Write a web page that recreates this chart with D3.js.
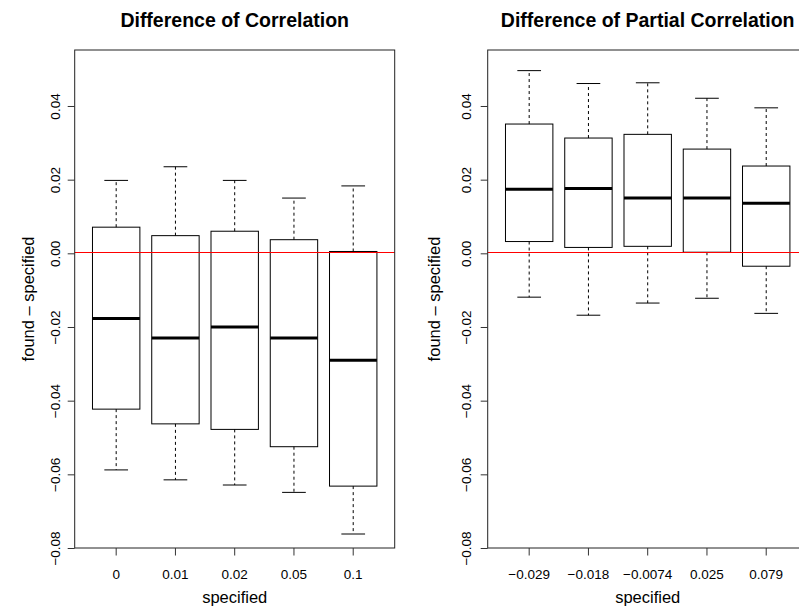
<!DOCTYPE html>
<html>
<head>
<meta charset="utf-8">
<script src="https://cdn.jsdelivr.net/npm/d3@7"></script>
<style>
  body { margin: 0; background: #fff; }
  svg { display: block; font-family: "Liberation Sans", Arial, Helvetica, sans-serif; }
</style>
</head>
<body>
<div id="chart"></div>
<script>
// Left panel data: correlation differences.
var corrCats = ["0", "0.01", "0.02", "0.05", "0.1"];
var corrLow  = [-0.0588, -0.0615, -0.0629, -0.0649, -0.0762];
var corrQ1   = [-0.0423, -0.0463, -0.0478, -0.0525, -0.0632];
var corrMed  = [-0.0177, -0.0230, -0.0200, -0.0230, -0.0290];
var corrQ3   = [0.0071, 0.0048, 0.0060, 0.0037, 0.0005];
var corrHigh = [0.0198, 0.0235, 0.0198, 0.0150, 0.0183];

// Right panel data: partial correlation differences.
var pcorCats = ["\u22120.029", "\u22120.018", "\u22120.0074", "0.025", "0.079"];
var pcorLow  = [-0.0119, -0.0168, -0.0135, -0.0122, -0.0163];
var pcorQ1   = [0.0032, 0.0016, 0.0019, 0.0003, -0.0035];
var pcorMed  = [0.0174, 0.0176, 0.0150, 0.0150, 0.0136];
var pcorQ3   = [0.0351, 0.0313, 0.0323, 0.0283, 0.0237];
var pcorHigh = [0.0496, 0.0461, 0.0463, 0.0421, 0.0395];

// Tick values and titles.
var yTicks = [-0.08, -0.06, -0.04, -0.02, 0, 0.02, 0.04];
var titles = ["Difference of Correlation", "Difference of Partial Correlation"];
var xTitle = "specified";
var yTitle = "found \u2013 specified";

// Dimensions.
var width = 799, height = 609;
var plotTop = 50, plotBottom = 548, plotWidth = 320;

var svg = d3.select("#chart")
    .append("svg")
    .attr("width", width)
    .attr("height", height);

// Shared y scale.
var yScale = d3.scaleLinear().domain([-0.08, 0.0552]).range([plotBottom, plotTop]);

function zip(cats, low, q1, med, q3, high) {
    return cats.map(function(c, i) {
        return {cat: c, low: low[i], q1: q1[i], med: med[i], q3: q3[i], high: high[i]};
    });
}

var panels = [
    {left: 74.7, data: zip(corrCats, corrLow, corrQ1, corrMed, corrQ3, corrHigh), title: titles[0], yLabX: 34, tickOff: 14.5},
    {left: 487.7, data: zip(pcorCats, pcorLow, pcorQ1, pcorMed, pcorQ3, pcorHigh), title: titles[1], yLabX: 440, tickOff: 16.5}
];

panels.forEach(function(p) {
    var g = svg.append("g");
    var xScale = d3.scaleBand()
        .domain(p.data.map(function(d) { return d.cat; }))
        .range([p.left, p.left + plotWidth])
        .paddingInner(0.2)
        .paddingOuter(0.3);
    var bw = xScale.bandwidth();
    var cx = function(d) { return xScale(d.cat) + bw / 2; };

    // Whiskers (dashed).
    var box = g.selectAll(".box").data(p.data).enter().append("g").attr("class", "box");
    box.append("line")
        .attr("x1", cx).attr("x2", cx)
        .attr("y1", function(d) { return yScale(d.q3); })
        .attr("y2", function(d) { return yScale(d.high); })
        .attr("stroke", "#000").attr("stroke-dasharray", "3,3");
    box.append("line")
        .attr("x1", cx).attr("x2", cx)
        .attr("y1", function(d) { return yScale(d.q1); })
        .attr("y2", function(d) { return yScale(d.low); })
        .attr("stroke", "#000").attr("stroke-dasharray", "3,3");
    // Caps.
    ["low", "high"].forEach(function(k) {
        box.append("line")
            .attr("x1", function(d) { return cx(d) - bw / 4; })
            .attr("x2", function(d) { return cx(d) + bw / 4; })
            .attr("y1", function(d) { return yScale(d[k]); })
            .attr("y2", function(d) { return yScale(d[k]); })
            .attr("stroke", "#000");
    });
    // Boxes.
    box.append("rect")
        .attr("x", function(d) { return xScale(d.cat); })
        .attr("width", bw)
        .attr("y", function(d) { return yScale(d.q3); })
        .attr("height", function(d) { return yScale(d.q1) - yScale(d.q3); })
        .attr("fill", "none").attr("stroke", "#000");
    // Medians.
    box.append("line")
        .attr("x1", function(d) { return xScale(d.cat); })
        .attr("x2", function(d) { return xScale(d.cat) + bw; })
        .attr("y1", function(d) { return yScale(d.med); })
        .attr("y2", function(d) { return yScale(d.med); })
        .attr("stroke", "#000").attr("stroke-width", 3);

    // Red reference line at zero (snapped to the pixel grid).
    var y0 = Math.round(yScale(0)) - 0.5;
    g.append("line")
        .attr("x1", p.left).attr("x2", p.left + plotWidth)
        .attr("y1", y0).attr("y2", y0)
        .attr("stroke", "#ff0000").attr("stroke-width", 1);

    // Frame.
    g.append("rect")
        .attr("x", p.left).attr("y", plotTop)
        .attr("width", plotWidth).attr("height", plotBottom - plotTop)
        .attr("fill", "none").attr("stroke", "#222");

    // X axis.
    var xAxis = g.append("g")
        .attr("transform", "translate(0," + plotBottom + ")")
        .call(d3.axisBottom(xScale).tickSize(7.5).tickPadding(13.5));
    xAxis.select(".domain").remove();
    xAxis.selectAll("line").attr("stroke", "#333");
    xAxis.selectAll("text")
        .style("font-size", "13.5px").style("font-family", "'Liberation Sans', Arial, sans-serif")
        .attr("fill", "#000");

    // Y axis.
    var yAxis = g.append("g")
        .attr("transform", "translate(" + p.left + ",0)")
        .call(d3.axisLeft(yScale).tickValues(yTicks).tickFormat(d3.format(".2f")).tickSize(7));
    yAxis.select(".domain").remove();
    yAxis.selectAll("line").attr("stroke", "#333");
    yAxis.selectAll("text")
        .attr("x", 0).attr("y", -p.tickOff).attr("dy", null)
        .attr("text-anchor", "middle")
        .attr("transform", "rotate(-90)")
        .style("font-size", "13.5px").style("font-family", "'Liberation Sans', Arial, sans-serif")
        .attr("fill", "#000");

    // Titles.
    g.append("text")
        .attr("x", p.left + plotWidth / 2).attr("y", 27)
        .attr("text-anchor", "middle")
        .style("font-size", "19.5px").attr("font-weight", "bold")
        .text(p.title);
    g.append("text")
        .attr("x", p.left + plotWidth / 2).attr("y", 603)
        .attr("text-anchor", "middle")
        .style("font-size", "16.5px")
        .text(xTitle);
    g.append("text")
        .attr("transform", "translate(" + p.yLabX + "," + ((plotTop + plotBottom) / 2) + ") rotate(-90)")
        .attr("text-anchor", "middle")
        .style("font-size", "16.5px")
        .text(yTitle);
});
</script>
</body>
</html>
